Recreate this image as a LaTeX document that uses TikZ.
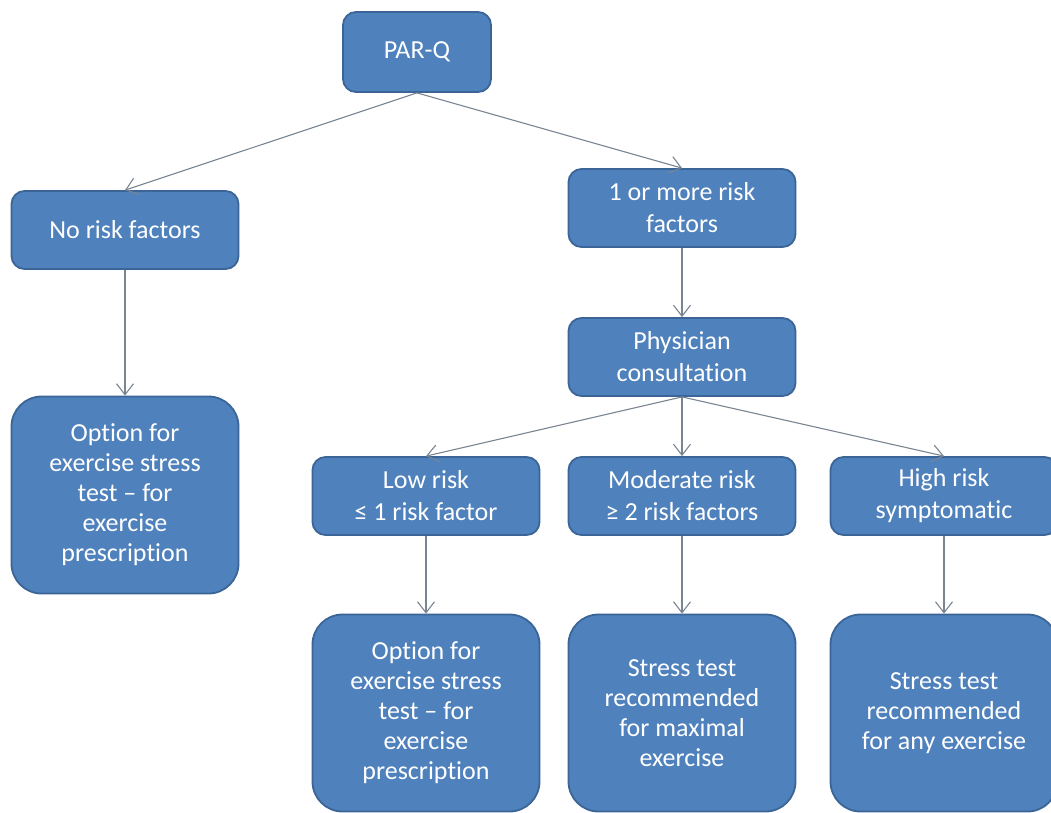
\documentclass[tikz,border=0pt]{standalone}
\usepackage{fontspec}
\setmainfont[Ligatures=NoCommon]{Carlito}
\usepackage{tikz}
\usetikzlibrary{arrows.meta,positioning,shapes}
\definecolor{boxblue}{HTML}{4F81BD}
\definecolor{boxedge}{HTML}{3A6596}
\definecolor{linegray}{HTML}{7A8592}

\begin{document}
\begin{tikzpicture}[x=1pt, y=-1pt]
\tikzstyle{main}=[rectangle, rounded corners=13pt, draw=boxedge, line width=1.8pt, fill=boxblue, text=white, align=center, font=\fontsize{26}{32}\selectfont, minimum width=227pt, minimum height=78pt, inner sep=2pt]
\tikzstyle{tall}=[main, rounded corners=30pt, minimum height=197pt, font=\fontsize{26}{30}\selectfont]
\tikzstyle{top}=[main, minimum width=148pt, minimum height=80pt]
\tikzstyle{connect}=[-{Straight Barb[length=11pt, width=17pt]}, draw=linegray, line width=1.1pt]

  \useasboundingbox[fill=white] (0,0) rectangle (1051,812);

  \node[top]  (parq)      at (417,52)  {PAR-Q};
  \node[main] (norisk)    at (125,230) {No risk factors};
  \node[main] (onemore)   at (682,208) {1 or more risk\\factors};

  \node[main] (physician) [below of =onemore,   node distance=149pt] {Physician\\consultation};
  \node[main] (moderate)  [below of =physician, node distance=139pt] {Moderate risk\\≥ 2 risk factors};
  \node[main] (low)       [left of =moderate,   node distance=256pt] {Low risk\\≤ 1 risk factor};
  \node[main] (high)      [right of =moderate,  node distance=262pt] {High risk\\symptomatic};

  \node[tall] (optleft)   [below of =norisk,    node distance=265pt] {Option for\\exercise stress\\test -- for\\exercise\\prescription};
  \node[tall] (optlow)    [below of =low,       node distance=217pt] {Option for\\exercise stress\\test -- for\\exercise\\prescription};
  \node[tall] (maxtest)   [below of =moderate,  node distance=217pt] {Stress test\\recommended\\for maximal\\exercise};
  \node[tall] (anytest)   [below of =high,      node distance=217pt] {Stress test\\recommended\\for any exercise};

  \path (parq.south) edge [connect] (norisk.north);
  \path (parq.south) edge [connect] (onemore.north);
  \path (norisk) edge [connect] (optleft);
  \path (onemore) edge [connect] (physician);

  \path (physician.south) edge [connect] (low.north);
  \path (physician.south) edge [connect] (moderate.north);
  \path (physician.south) edge [connect] (high.north);

  \path (low) edge [connect] (optlow);
  \path (moderate) edge [connect] (maxtest);
  \path (high) edge [connect] (anytest);

\end{tikzpicture}
\end{document}
